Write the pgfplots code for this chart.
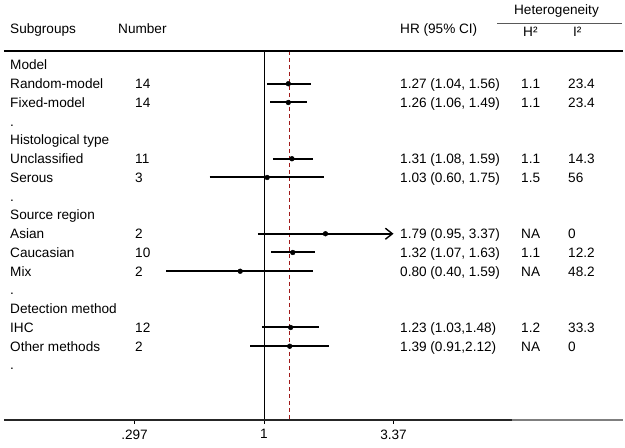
\documentclass[border=0pt]{standalone}
\usepackage{fontspec}
\setmainfont{Liberation Sans}
\usepackage{pgfplots}
\pgfplotsset{compat=1.18}
\usetikzlibrary{arrows.meta}
\newcommand\F{\fontsize{13.6}{16}\selectfont}
\definecolor{refred}{HTML}{A01A1A}
\definecolor{rulegray}{HTML}{7F7F7F}
% column x positions (HR scale, log axis)
\def\cA{0.09231}  % subgroup labels
\def\cB{0.2982}   % number
\def\cC{3.5815}   % HR text
\def\cD{11.144}   % H2
\def\cE{17.318}   % I2
\newcommand\T[3]{\node[anchor=base west,inner sep=0pt,font=\F] at (axis cs:#1,#2) {#3};}
\begin{document}
\begin{tikzpicture}
\begin{axis}[
  name=ax,
  scale only axis, width=625pt, height=420pt,
  xmode=log, xmin=0.08404, xmax=29.56,
  ymin=-19.933, ymax=2.4667,
  axis y line=none, axis x line*=bottom,
  x axis line style={draw=none},
  xtick={0.297,1,3.37}, xticklabels={\mbox{.297},\mbox{1},\mbox{3.37}},
  minor xtick={}, tick align=outside, major tick length=4pt,
  tick style={black,line width=0.8pt},
  xticklabel style={font=\F, yshift=-2pt},
  /pgf/number format/assume math mode=true,
  clip=false,
  ci/.style={black,line width=2pt,no marks},
  pt/.style={black,only marks,mark=*,mark size=2.4pt},
]
% reference lines
\addplot[black,line width=1pt,no marks] coordinates {(1,-0.2533) (1,-19.933)};
\addplot[refred,line width=1pt,no marks,dash pattern=on 4pt off 3pt] coordinates {(1.265,-0.2533) (1.265,-19.933)};
% confidence intervals
\addplot[ci] coordinates {(1.03,-2) (1.55,-2)};
\addplot[ci] coordinates {(1.06,-3) (1.49,-3)};
\addplot[ci] coordinates {(1.088,-6) (1.58,-6)};
\addplot[ci] coordinates {(0.60,-7) (1.75,-7)};
\addplot[ci,-{Straight Barb[length=7pt,width=11pt,line width=1.4pt]}] coordinates {(0.945,-10) (3.37,-10)};
\addplot[ci] coordinates {(1.068,-11) (1.62,-11)};
\addplot[ci] coordinates {(0.40,-12) (1.59,-12)};
\addplot[ci] coordinates {(0.981,-15) (1.675,-15)};
\addplot[ci] coordinates {(0.877,-16) (1.845,-16)};
% point estimates
\addplot[pt] coordinates {(1.256,-2) (1.256,-3) (1.30,-6) (1.03,-7) (1.78,-10) (1.31,-11) (0.80,-12) (1.284,-15) (1.273,-16)};
% rules
\draw[black,line width=1.1pt] (axis cs:0.08724,-0.2533) -- (axis cs:29.01,-0.2533);
\draw[rulegray!70!black,line width=0.9pt] (axis cs:8.897,1.24) -- (axis cs:28.74,1.24);
\draw[black!85,line width=1.1pt] (axis cs:0.08724,-19.933) -- (axis cs:10.24,-19.933);
\draw[rulegray,line width=1.1pt] (axis cs:10.24,-19.933) -- (axis cs:29.01,-19.933);
% headers
\T{\cA}{0.6533}{Subgroups}
\T{0.2542}{0.6533}{Number}
\T{\cC}{0.6533}{HR (95\% CI)}
\node[anchor=base,inner sep=0pt,font=\F] at (axis cs:15.547,1.6667) {Heterogeneity};
\T{11.355}{0.4933}{H²}
\T{18.15}{0.4933}{I²}
% rows (baseline y = -(row+0.2667))
\T{\cA}{-1.2667}{Model}
\T{\cA}{-2.2667}{Random-model}\T{\cB}{-2.2667}{14}\T{\cC}{-2.2667}{1.27 (1.04, 1.56)}\T{\cD}{-2.2667}{1.1}\T{\cE}{-2.2667}{23.4}
\T{\cA}{-3.2667}{Fixed-model}\T{\cB}{-3.2667}{14}\T{\cC}{-3.2667}{1.26 (1.06, 1.49)}\T{\cD}{-3.2667}{1.1}\T{\cE}{-3.2667}{23.4}
\T{\cA}{-4.2667}{.}
\T{\cA}{-5.2667}{Histological type}
\T{\cA}{-6.2667}{Unclassified}\T{\cB}{-6.2667}{11}\T{\cC}{-6.2667}{1.31 (1.08, 1.59)}\T{\cD}{-6.2667}{1.1}\T{\cE}{-6.2667}{14.3}
\T{\cA}{-7.2667}{Serous}\T{\cB}{-7.2667}{3}\T{\cC}{-7.2667}{1.03 (0.60, 1.75)}\T{\cD}{-7.2667}{1.5}\T{\cE}{-7.2667}{56}
\T{\cA}{-8.2667}{.}
\T{\cA}{-9.2667}{Source region}
\T{\cA}{-10.2667}{Asian}\T{\cB}{-10.2667}{2}\T{\cC}{-10.2667}{1.79 (0.95, 3.37)}\T{\cD}{-10.2667}{NA}\T{\cE}{-10.2667}{0}
\T{\cA}{-11.2667}{Caucasian}\T{\cB}{-11.2667}{10}\T{\cC}{-11.2667}{1.32 (1.07, 1.63)}\T{\cD}{-11.2667}{1.1}\T{\cE}{-11.2667}{12.2}
\T{\cA}{-12.2667}{Mix}\T{\cB}{-12.2667}{2}\T{\cC}{-12.2667}{0.80 (0.40, 1.59)}\T{\cD}{-12.2667}{NA}\T{\cE}{-12.2667}{48.2}
\T{\cA}{-13.2667}{.}
\T{\cA}{-14.2667}{Detection method}
\T{\cA}{-15.2667}{IHC}\T{\cB}{-15.2667}{12}\T{\cC}{-15.2667}{1.23 (1.03,1.48)}\T{\cD}{-15.2667}{1.2}\T{\cE}{-15.2667}{33.3}
\T{\cA}{-16.2667}{Other methods}\T{\cB}{-16.2667}{2}\T{\cC}{-16.2667}{1.39 (0.91,2.12)}\T{\cD}{-16.2667}{NA}\T{\cE}{-16.2667}{0}
\T{\cA}{-17.2667}{.}
\end{axis}
\pgfresetboundingbox
\path[use as bounding box] ([yshift=-28pt]ax.south west) rectangle (ax.north east);
\end{tikzpicture}
\end{document}
